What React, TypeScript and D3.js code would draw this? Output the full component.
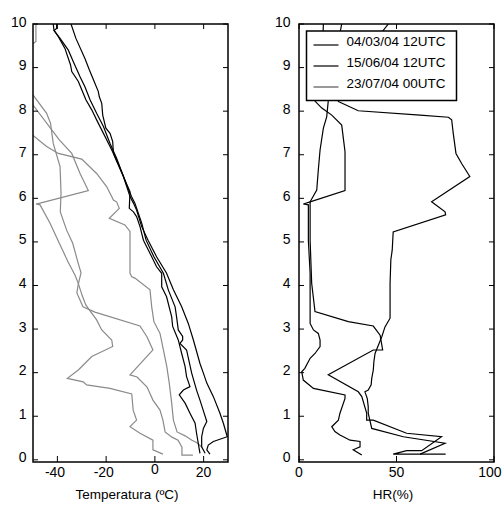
import React from 'react';
import * as d3 from 'd3';

type P = [number, number];

// ---- axes / labels ----
const heightTicks = [0, 1, 2, 3, 4, 5, 6, 7, 8, 9, 10];
const tempTicks = [-40, -20, 0, 20];
const hrTicks = [0, 50, 100];
const legendLabels = ['04/03/04 12UTC', '15/06/04 12UTC', '23/07/04 00UTC'];
const legendColors = ['#000', '#000', '#555'];
const tempTitle = 'Temperatura (ºC)';
const hrTitle = 'HR(%)';

// ---- temperature profiles [T °C, z km] (black) ----
const tempA: P[] = [[-34.4,10.0],[-32.4,9.67],[-28.7,9.21],[-26.9,8.95],[-25.2,8.72],[-23.2,8.45],[-22.8,8.33],[-21.8,8.18],[-21.4,7.91],[-20.1,7.61],[-18.4,7.49],[-17.3,7.30],[-17.0,7.03],[-15.9,6.88],[-12.9,6.50],[-10.2,6.04],[-8.8,5.89],[-7.5,5.73],[-5.4,5.35],[-2.8,5.04],[0.7,4.66],[4.8,4.28],[7.6,3.90],[11.0,3.51],[13.7,3.13],[15.8,2.75],[18.5,2.21],[19.9,1.99],[21.3,1.76],[24.0,1.45],[26.7,1.07],[28.1,0.84],[29.7,0.53],[24.0,0.42],[21.9,0.34],[21.3,0.23],[22.6,0.13]];
const tempB: P[] = [[-41.7,10.0],[-41.4,9.86],[-39.6,9.71],[-36.9,9.44],[-34.6,9.06],[-34.1,8.91],[-31.4,8.68],[-30.0,8.49],[-28.3,8.26],[-25.9,8.03],[-23.9,7.80],[-21.1,7.49],[-18.4,7.19],[-15.7,6.88],[-12.3,6.42],[-10.2,6.15],[-10.5,5.77],[-8.8,5.69],[-7.5,5.58],[-6.1,5.35],[-4.7,5.04],[-1.3,4.66],[0.7,4.43],[2.8,4.28],[2.8,3.97],[4.8,3.74],[6.9,3.28],[7.3,3.06],[9.6,2.75],[11.0,2.44],[12.4,2.14],[13.0,1.91],[14.4,1.68],[11.7,1.60],[10.0,1.49],[12.4,1.30],[14.4,1.07],[16.5,0.84],[17.1,0.61],[17.8,0.38],[18.5,0.15]];
const tempC: P[] = [[-40.3,10.0],[-40.3,9.90],[-41.4,9.85],[-38.9,9.67],[-35.5,9.40],[-33.5,9.14],[-30.7,8.79],[-28.7,8.56],[-26.6,8.26],[-23.9,7.95],[-21.1,7.65],[-18.4,7.26],[-15.7,6.92],[-11.6,6.31],[-9.6,6.04],[-8.2,5.89],[-6.8,5.66],[-5.4,5.43],[-3.6,5.04],[-0.4,4.66],[3.5,4.28],[5.5,3.90],[8.3,3.51],[8.9,3.28],[9.6,2.98],[11.4,2.83],[11.4,2.75],[10.3,2.67],[13.0,2.52],[15.1,1.99],[17.1,1.60],[18.5,1.37],[20.2,1.07],[21.3,0.88],[19.9,0.72],[19.2,0.53],[19.2,0.30],[20.6,0.15]];

// ---- dew-point profiles [Td °C, z km] (gray) ----
const dewA: P[] = [[-48.8,10.0],[-48.8,9.60],[-51,9.5],[-56,9.0],[-53,8.5],[-50,8.37],[-44.4,7.95],[-42.8,7.72],[-41.7,7.26],[-38.9,6.73],[-38.5,6.12],[-38.8,5.69],[-36.2,5.27],[-33.7,4.97],[-31.5,4.52],[-30.3,4.29],[-31.5,4.01],[-32.0,3.83],[-29.5,3.51],[-24.6,3.39],[-6.1,3.07],[-3.2,2.82],[-0.8,2.52],[-10.2,1.95],[-7.3,1.90],[-3.2,1.67],[-0.8,1.37],[2.1,1.14],[3.3,0.91],[4.2,0.64],[7.0,0.52],[9.5,0.45],[11.1,0.29],[11.1,0.11],[15.6,0.11]];
const dewB: P[] = [[-54,8.5],[-50,8.14],[-39.2,7.34],[-34.1,7.03],[-30.7,6.57],[-27.3,6.18],[-47.1,5.89],[-48.8,5.87],[-47.1,5.85],[-43.0,5.43],[-39.2,4.97],[-35.6,4.54],[-32.8,4.24],[-31.5,4.06],[-29.9,3.78],[-28.3,3.55],[-23.9,3.21],[-21.8,2.98],[-17.7,2.75],[-17.3,2.60],[-25.9,2.37],[-31.4,2.06],[-35.9,1.87],[-29.4,1.79],[-28.0,1.72],[-18.4,1.64],[-9.5,1.51],[-8.9,1.14],[-7.5,0.91],[-10.2,0.76],[-6.1,0.61],[-0.8,0.45],[-0.8,0.23],[3.3,0.13]];
const dewC: P[] = [[-55,7.8],[-50,7.44],[-44.4,7.19],[-39.6,7.03],[-30.0,6.90],[-23.9,6.57],[-19.8,6.27],[-17.0,5.96],[-15.7,5.92],[-14.6,5.77],[-18.7,5.54],[-12.3,5.39],[-10.2,5.24],[-10.2,4.81],[-10.2,4.28],[-9.5,4.20],[-8.2,4.17],[-2.0,3.90],[-1.3,3.51],[-0.4,3.17],[2.1,2.90],[3.5,2.52],[4.9,2.14],[5.9,1.76],[6.9,1.30],[7.6,0.91],[9.1,0.64],[12.4,0.55],[15.2,0.45],[17.3,0.39],[19.3,0.29]];

// ---- relative humidity profiles [HR %, z km] ----
const hrA: P[] = [[45.8,10.0],[31.3,9.17],[23.6,8.49],[20.2,8.22],[30.4,8.01],[62.1,7.91],[76.6,7.86],[78.3,7.80],[79.1,7.49],[80.5,7.03],[83.4,6.80],[87.6,6.50],[68.0,5.92],[74.9,5.69],[75.2,5.62],[48.3,5.23],[47.8,4.81],[47.1,4.59],[46.7,4.05],[46.7,3.25],[44.1,3.05],[42.5,2.83],[40.7,2.63],[39.0,2.44],[38.4,2.25],[38.1,2.06],[37.3,1.87],[37.0,1.72],[35.5,1.60],[33.8,1.56],[35.0,1.41],[35.5,1.22],[35.5,1.07],[37.3,0.72],[53.5,0.53],[74.9,0.38],[62.1,0.13]];
const hrB: P[] = [[21.9,10.0],[18.4,9.17],[9.7,8.49],[8.2,8.23],[11.7,8.07],[16.8,7.91],[21.9,7.68],[23.6,7.07],[23.6,6.18],[5.7,5.92],[2.2,5.87],[4.8,5.85],[4.8,5.04],[5.7,4.28],[5.7,3.13],[7.4,2.98],[9.9,2.90],[10.8,2.75],[10.8,2.60],[8.2,2.44],[5.7,2.33],[3.0,2.10],[1.4,2.02],[2.2,1.83],[7.4,1.64],[23.6,1.49],[23.6,1.41],[21.0,1.07],[20.2,0.91],[16.8,0.76],[18.4,0.65],[21.0,0.57],[26.2,0.45],[31.3,0.42],[31.3,0.30],[27.8,0.23],[32.2,0.11]];
const hrC: P[] = [[12.5,10.0],[11.8,9.17],[13.8,8.49],[15.0,8.23],[14.2,7.87],[12.5,7.61],[10.8,7.11],[9.9,6.65],[9.1,6.19],[5.7,5.92],[5.7,5.04],[6.5,4.05],[8.2,3.40],[25.3,3.17],[38.1,3.07],[41.6,2.86],[42.9,2.52],[38.1,2.52],[15.0,1.95],[30.4,1.56],[32.2,1.45],[34.7,1.07],[34.7,0.91],[38.1,0.91],[55.2,0.61],[73.1,0.53],[62.9,0.21],[55.2,0.21],[48.3,0.13],[75.2,0.13]];

const tempSeries = [tempA, tempB, tempC];
const dewSeries = [dewA, dewB, dewC];
const hrSeries = [hrA, hrB, hrC];

const FONT = '"Liberation Sans", Arial, Helvetica, sans-serif';

export default function App() {
  const W = 503, H = 505;
  const yTop = 24, yBot = 462;
  const L = { x0: 33, x1: 228 };
  const R = { x0: 299, x1: 494 };

  const y = d3.scaleLinear().domain([-0.05, 10]).range([yBot, yTop]);
  const xT = d3.scaleLinear().domain([-50, 30]).range([L.x0, L.x1]);
  const xH = d3.scaleLinear().domain([0, 100]).range([R.x0, R.x1]);

  const lineT = d3.line<P>().x(d => xT(d[0])).y(d => y(d[1]));
  const lineH = d3.line<P>().x(d => xH(d[0])).y(d => y(d[1]));

  const tickLen = 5;
  const digitW = 14 * 0.556;

  const frame = (p: { x0: number; x1: number }, key: string) => (
    <rect key={key} x={p.x0} y={yTop} width={p.x1 - p.x0} height={yBot - yTop}
      fill="none" stroke="#000" strokeWidth={1.5} />
  );

  const yTicks = (p: { x0: number; x1: number }, labelX: number, key: string) => (
    <g key={key}>
      {heightTicks.map(k => (
        <g key={k}>
          <line x1={p.x0} x2={p.x0 + tickLen} y1={y(k)} y2={y(k)} stroke="#000" strokeWidth={1} />
          <line x1={p.x1 - tickLen} x2={p.x1} y1={y(k)} y2={y(k)} stroke="#000" strokeWidth={1} />
          <text x={labelX} y={y(k) + 2.5} textAnchor="end" fontSize={14} fontFamily={FONT}>{k}</text>
        </g>
      ))}
    </g>
  );

  return (
    <svg width={W} height={H} style={{ position: 'absolute', left: 0, top: 0, background: '#fff' }}>
      <defs>
        <clipPath id="clipL"><rect x={L.x0} y={yTop} width={L.x1 - L.x0} height={yBot - yTop} /></clipPath>
        <clipPath id="clipR"><rect x={R.x0} y={yTop} width={R.x1 - R.x0} height={yBot - yTop} /></clipPath>
      </defs>
      <rect x={0} y={0} width={W} height={H} fill="#fff" />

      {/* LEFT PANEL */}
      <g clipPath="url(#clipL)">
        {dewSeries.map((s, i) => (
          <path key={'d' + i} d={lineT(s) || ''} fill="none" stroke="#8a8a8a" strokeWidth={1.2} />
        ))}
        {tempSeries.map((s, i) => (
          <path key={'t' + i} d={lineT(s) || ''} fill="none" stroke="#000" strokeWidth={1.2} />
        ))}
      </g>
      {tempTicks.map(t => (
        <g key={t}>
          <line x1={xT(t)} x2={xT(t)} y1={yBot} y2={yBot - 6} stroke="#000" />
          <line x1={xT(t)} x2={xT(t)} y1={yTop} y2={yTop + tickLen} stroke="#000" />
          <text x={t < 0 ? xT(t) + (String(Math.abs(t)).length * digitW) / 2 : xT(t)}
            y={t === 0 ? 473.5 : 477} textAnchor={t < 0 ? 'end' : 'middle'}
            fontSize={14} fontFamily={FONT}>{t}</text>
        </g>
      ))}
      {yTicks(L, 26.5, 'yl')}
      {frame(L, 'fl')}
      <text x={(L.x0 + L.x1) / 2 - 3.5} y={499} textAnchor="middle" fontSize={13.5} fontFamily={FONT}>{tempTitle}</text>

      {/* RIGHT PANEL */}
      <g clipPath="url(#clipR)">
        {hrSeries.map((s, i) => (
          <path key={'h' + i} d={lineH(s) || ''} fill="none" stroke="#000" strokeWidth={1.2} />
        ))}
      </g>
      {hrTicks.map(t => {
        const halfW = (String(t).length * digitW) / 2;
        const lx = Math.min(xH(t), W - 1.5 - halfW);
        return (
          <g key={t}>
            <line x1={xH(t)} x2={xH(t)} y1={yBot} y2={yBot - 6} stroke="#000" />
            <line x1={xH(t)} x2={xH(t)} y1={yTop} y2={yTop + tickLen} stroke="#000" />
            <text x={lx} y={477} textAnchor="middle" fontSize={14} fontFamily={FONT}>{t}</text>
          </g>
        );
      })}
      {yTicks(R, 290.5, 'yr')}
      {frame(R, 'fr')}
      <text x={(R.x0 + R.x1) / 2 - 3.5} y={499} textAnchor="middle" fontSize={13.5} fontFamily={FONT}>{hrTitle}</text>

      {/* LEGEND */}
      <g>
        <rect x={306.5} y={31} width={150} height={69.5} fill="#fff" stroke="#000" strokeWidth={1.5} />
        {legendLabels.map((lab, i) => (
          <g key={lab}>
            <line x1={313.5} x2={338.5} y1={45 + i * 21} y2={45 + i * 21} stroke={legendColors[i]} strokeWidth={1.2} />
            <text x={346.5} y={45.5 + i * 21} fontSize={13.5} fontFamily={FONT}>{lab}</text>
          </g>
        ))}
      </g>
    </svg>
  );
}
